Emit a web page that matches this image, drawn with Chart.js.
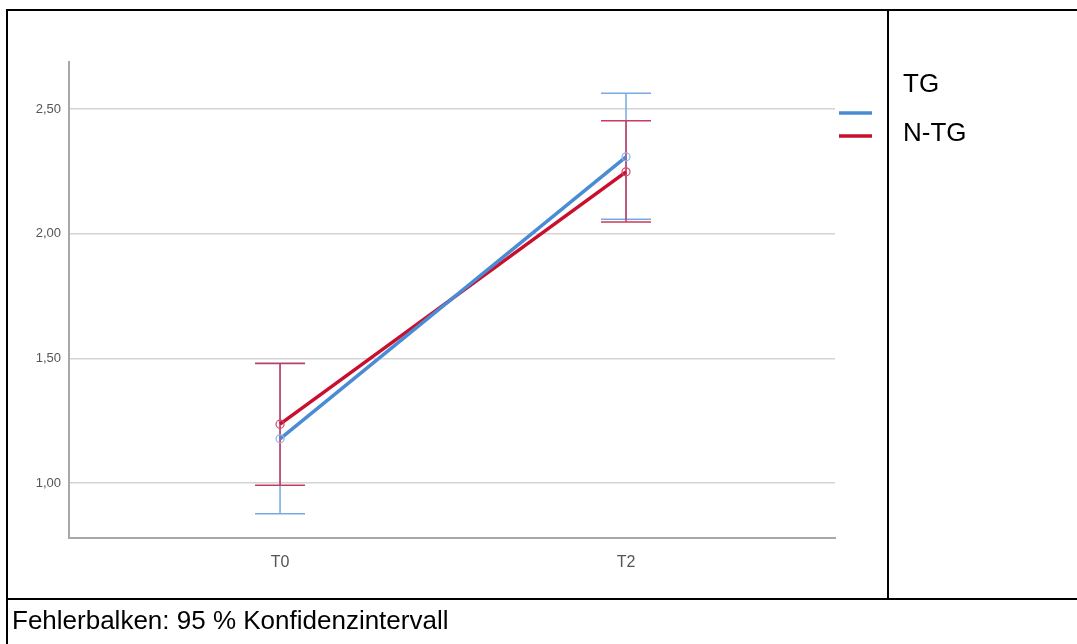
<!DOCTYPE html>
<html>
<head>
<meta charset="utf-8">
<script src="https://cdn.jsdelivr.net/npm/chart.js@4/dist/chart.umd.min.js"></script>
<style>
  html, body { margin: 0; padding: 0; background: #fff; }
  #wrap { position: relative; width: 1077px; height: 644px; overflow: hidden; font-family: "Liberation Sans", Arial, sans-serif; }
  canvas { position: absolute; left: 0; top: 0; }
  .ln { position: absolute; background: #000; }
  .txt { position: absolute; color: #000; font-size: 26px; line-height: 1; white-space: nowrap; }
</style>
</head>
<body>
<div id="wrap">
  <canvas id="c" width="1077" height="644"></canvas>
  <div class="ln" style="left:6px;top:9px;width:1071px;height:2px;"></div>
  <div class="ln" style="left:6px;top:9px;width:2px;height:635px;"></div>
  <div class="ln" style="left:887px;top:9px;width:2px;height:591px;"></div>
  <div class="ln" style="left:6px;top:598px;width:1071px;height:2px;"></div>
  <div id="leg"></div>
  <div class="txt" id="foot" style="left:12px;top:607px;"></div>
</div>
<script>
const categories = ["T0", "T2"];
const seriesNames = ["TG", "N-TG"];
const tgMean = [1.177, 2.308];
const tgLow  = [0.877, 2.058];
const tgHigh = [1.480, 2.563];
const ntgMean = [1.236, 2.248];
const ntgLow  = [0.991, 2.047];
const ntgHigh = [1.479, 2.453];
const yTicks = [1.0, 1.5, 2.0, 2.5];
const footnote = "Fehlerbalken: 95 % Konfidenzintervall";

const colors = { line: ["#4a8bd6", "#c8102e"], bar: ["#78a9e2", "#c93a60"], pt: ["#8fb4e6", "#d04a68"] };

function pts(arr) { return arr.map((v, i) => ({ x: i, y: v })); }

const errData = [
  { low: tgLow, high: tgHigh },
  { low: ntgLow, high: ntgHigh }
];

const errorBars = {
  id: 'errorBars',
  beforeDatasetsDraw(chart) {
    const ctx = chart.ctx, xs = chart.scales.x, ys = chart.scales.y;
    ctx.save();
    errData.forEach((e, d) => {
      ctx.strokeStyle = colors.bar[d];
      ctx.lineWidth = 1.5;
      e.low.forEach((lo, i) => {
        const x = xs.getPixelForValue(i);
        const y1 = ys.getPixelForValue(lo), y2 = ys.getPixelForValue(e.high[i]);
        ctx.beginPath();
        ctx.moveTo(x, y1); ctx.lineTo(x, y2);
        ctx.moveTo(x - 25, y1); ctx.lineTo(x + 25, y1);
        ctx.moveTo(x - 25, y2); ctx.lineTo(x + 25, y2);
        ctx.stroke();
      });
    });
    ctx.restore();
  },
  afterDraw(chart) {
    const ctx = chart.ctx;
    ctx.save();
    chart.data.datasets.forEach((ds, d) => {
      const y = [113, 136][d];
      ctx.strokeStyle = ds.borderColor;
      ctx.lineWidth = 3.5;
      ctx.beginPath();
      ctx.moveTo(839, y); ctx.lineTo(872, y);
      ctx.stroke();
    });
    ctx.restore();
  }
};

new Chart(document.getElementById('c'), {
  type: 'line',
  data: {
    datasets: [
      { label: seriesNames[0], data: pts(tgMean), borderColor: colors.line[0], borderWidth: 3.5,
        pointRadius: 4, pointBorderWidth: 1.2, pointBackgroundColor: 'rgba(255,255,255,0)', pointBorderColor: colors.pt[0] },
      { label: seriesNames[1], data: pts(ntgMean), borderColor: colors.line[1], borderWidth: 3.5,
        pointRadius: 4, pointBorderWidth: 1.2, pointBackgroundColor: 'rgba(255,255,255,0)', pointBorderColor: colors.pt[1] }
    ]
  },
  options: {
    responsive: false,
    animation: false,
    layout: { padding: { left: 0, top: 62, right: 242, bottom: 66 } },
    plugins: { legend: { display: false }, tooltip: { enabled: false } },
    scales: {
      x: {
        type: 'linear', min: -0.61, max: 1.604,
        afterBuildTicks: s => { s.ticks = categories.map((c, i) => ({ value: i })); },
        afterFit: s => { s.height = 40; },
        ticks: { callback: v => categories[v], color: '#555', font: { family: 'Liberation Sans, Arial', size: 16 }, padding: 7 },
        grid: { display: false },
        border: { color: '#a8a8a8', width: 2 }
      },
      y: {
        min: 0.7794, max: 2.6885,
        afterBuildTicks: s => { s.ticks = yTicks.map(v => ({ value: v })); },
        afterFit: s => { s.width = 69; },
        ticks: { callback: v => v.toFixed(2).replace('.', ','), color: '#555', font: { family: 'Liberation Sans, Arial', size: 13 }, padding: 8 },
        grid: { color: '#d4d4d4', lineWidth: 1.5, drawTicks: false },
        border: { color: '#a8a8a8', width: 2 }
      }
    }
  },
  plugins: [errorBars]
});

const leg = document.getElementById('leg');
seriesNames.forEach((n, i) => {
  const d = document.createElement('div');
  d.className = 'txt';
  d.style.left = '903px';
  d.style.top = [70, 119][i] + 'px';
  d.textContent = n;
  leg.appendChild(d);
});
document.getElementById('foot').textContent = footnote;
</script>
</body>
</html>
